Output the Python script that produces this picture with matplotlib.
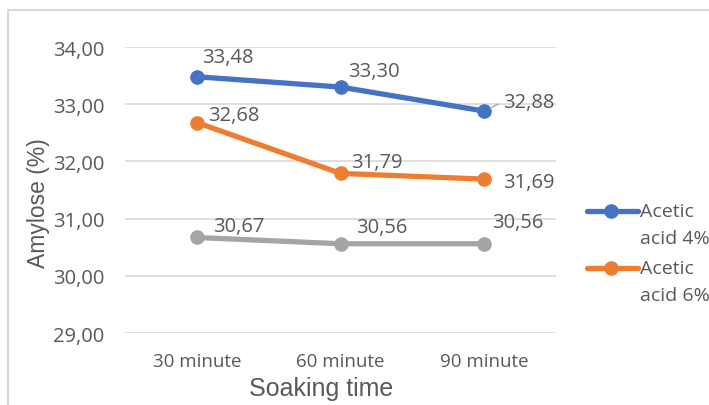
import matplotlib
matplotlib.use("Agg")
import matplotlib.pyplot as plt
from matplotlib.lines import Line2D

# Data
categories = ["30 minute", "60 minute", "90 minute"]
acetic_4 = [33.48, 33.30, 32.88]
acetic_6 = [32.68, 31.79, 31.69]
control = [30.67, 30.56, 30.56]
series_names = ["Acetic\nacid 4%", "Acetic\nacid 6%"]
y_ticks = [29, 30, 31, 32, 33, 34]

# Styling
W, H, DPI = 709, 406, 100
TXT = "#595959"
GRID = "#D9D9D9"
colors = ["#4472C4", "#ED7D31", "#A5A5A5"]
# data-label offsets in pixels (left edge, vertical centre) relative to each point
label_offsets = [
    [(5, 20), (8, 16), (19, 9)],
    [(11, 8), (11, 11), (19, -3)],
    [(16, 11), (16, 17), (8, 22)],
]

fig = plt.figure(figsize=(W / DPI, H / DPI), dpi=DPI)
ax = fig.add_axes([125 / W, 1 - 334 / H, (556 - 125) / W, (334 - 48) / H])

x = list(range(len(categories)))
all_series = [acetic_4, acetic_6, control]
for vals, col, offs in zip(all_series, colors, label_offsets):
    ax.plot(x, vals, color=col, lw=3.8, marker="o", ms=9.5, solid_capstyle="round", zorder=3)
    for xi, v, (dx, dy) in zip(x, vals, offs):
        ax.annotate(f"{v:.2f}".replace(".", ","), (xi, v), xytext=(dx, dy),
                    textcoords="offset pixels", ha="left", va="center",
                    fontsize=14.5, color=TXT, family="Open Sans", zorder=4)

# leader line for the last blue label
ax.annotate("", (x[2], acetic_4[2]), xytext=(14, 7), textcoords="offset pixels",
            arrowprops=dict(arrowstyle="-", color="#A6A6A6", lw=1, shrinkA=0, shrinkB=5))

ax.set_xlim(-0.5, len(categories) - 0.5)
ax.set_ylim(29, 34)
ax.set_yticks(y_ticks)
ax.set_yticklabels([f"{t:.2f}".replace(".", ",") for t in y_ticks])
ax.set_xticks(x)
ax.set_xticklabels(categories)
ax.grid(axis="y", color=GRID, lw=1.2)
ax.set_axisbelow(True)
for s in ax.spines.values():
    s.set_visible(False)
ax.tick_params(axis="both", length=0, colors=TXT)
ax.tick_params(axis="y", pad=15, labelsize=14.5)
ax.tick_params(axis="x", pad=14, labelsize=13.5)
for lab in ax.get_xticklabels() + ax.get_yticklabels():
    lab.set_family("Open Sans")

fig.text(38 / W, 1 - 203 / H, "Amylose (%)", rotation=90, ha="center", va="center",
         fontsize=16.5, color=TXT, family="Liberation Sans")
fig.text(321 / W, 1 - 389 / H, "Soaking time", ha="center", va="center",
         fontsize=18, color=TXT, family="Liberation Sans")

# legend
for i, (name, col) in enumerate(zip(series_names, colors)):
    y0 = 1 - (212 + 57 * i) / H
    fig.add_artist(Line2D([587 / W, 638 / W], [y0, y0], color=col, lw=3.8,
                          solid_capstyle="round", transform=fig.transFigure))
    fig.add_artist(Line2D([611 / W], [y0], color=col, marker="o", ms=9.5, lw=0,
                          transform=fig.transFigure))
    first, second = name.split("\n")
    fig.text(640 / W, y0, first, ha="left", va="center", fontsize=14, color=TXT, family="Open Sans")
    fig.text(640 / W, y0 - 27 / H, second, ha="left", va="center", fontsize=14, color=TXT, family="Open Sans")

# chart-area frame
fig.add_artist(Line2D([8 / W, 1], [1 - 11 / H, 1 - 11 / H], color=GRID, lw=1.5, transform=fig.transFigure))
fig.add_artist(Line2D([8 / W, 8 / W], [0, 1 - 11 / H], color=GRID, lw=1.5, transform=fig.transFigure))

fig.savefig("out.png", dpi=DPI)
